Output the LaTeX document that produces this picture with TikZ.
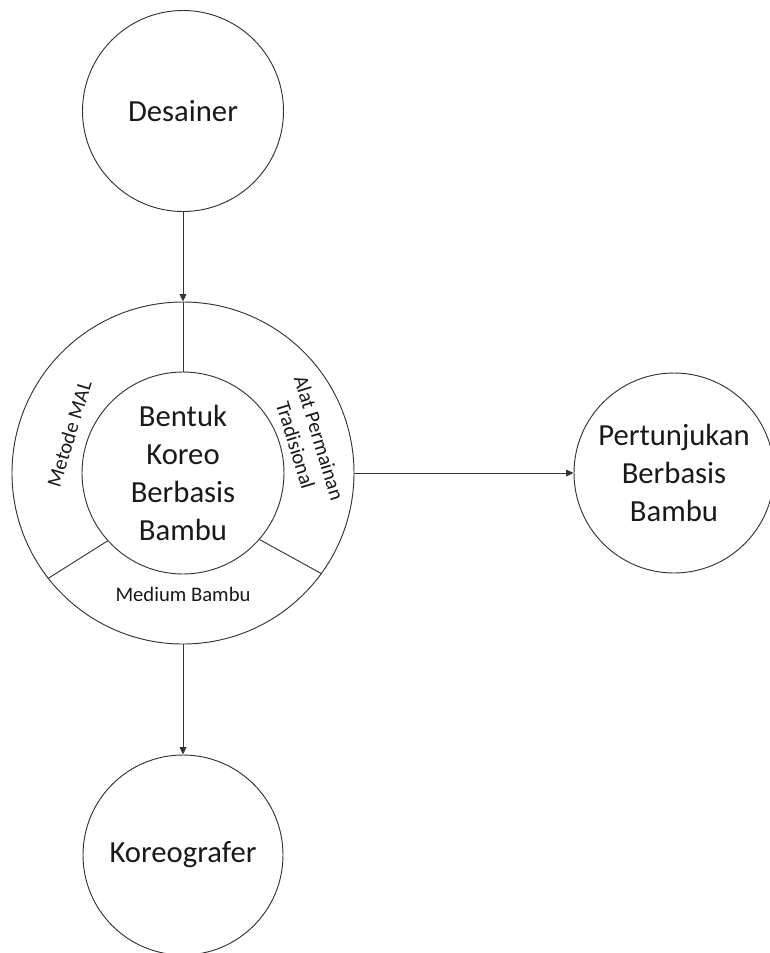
\documentclass[tikz,border=0pt]{standalone}
\usepackage{fontspec}
\setmainfont{Carlito}
\usetikzlibrary{arrows.meta}
\tikzset{
  bubble/.style={draw=black!80, line width=0.7pt, circle, inner sep=0pt, align=center, text=black!90},
  big/.style={font=\fontsize{23}{28.5}\selectfont},
  small/.style={font=\fontsize{15.5}{18.5}\selectfont, text=black!90, inner sep=0pt, align=center},
  conn/.style={draw=black!80, line width=0.7pt},
  arr/.style={conn, -{Triangle[length=5.5pt,width=5pt]}}
}
\begin{document}
\begin{tikzpicture}[x=0.75pt,y=-0.75pt]
\useasboundingbox (0,0) rectangle (769,953);
\node[bubble, big, minimum size=150.75pt] (des) at (183,111) {Desainer};
\node[bubble, minimum size=256.5pt] (ring) at (183,473) {};
\node[bubble, big, minimum size=151.5pt] (core) at (183,473) {Bentuk\\Koreo\\Berbasis\\Bambu};
\node[bubble, big, minimum size=150pt] (per) at (674,473) {Pertunjukan\\Berbasis\\Bambu};
\node[bubble, big, minimum size=150pt] (kor) at (183,855) {Koreografer};
\draw[conn] (core.-138.6) -- (ring.-142.4);
\draw[conn] (core.-41) -- (ring.-36.5);
\draw[conn] (ring.north) -- (core.north);
\node[small, anchor=base] (med) at (183,601) {Medium Bambu};
\node[small, rotate=73] (mal) at (69,434) {Metode MAL};
\node[small, rotate=-73] (alat) at (307.5,441.5) {Alat Permainan\\Tradisional};
\draw[arr] (des.south) -- (ring.north);
\draw[arr] (ring.east) -- (per.west);
\draw[arr] (ring.south) -- (kor.north);
\end{tikzpicture}
\end{document}
